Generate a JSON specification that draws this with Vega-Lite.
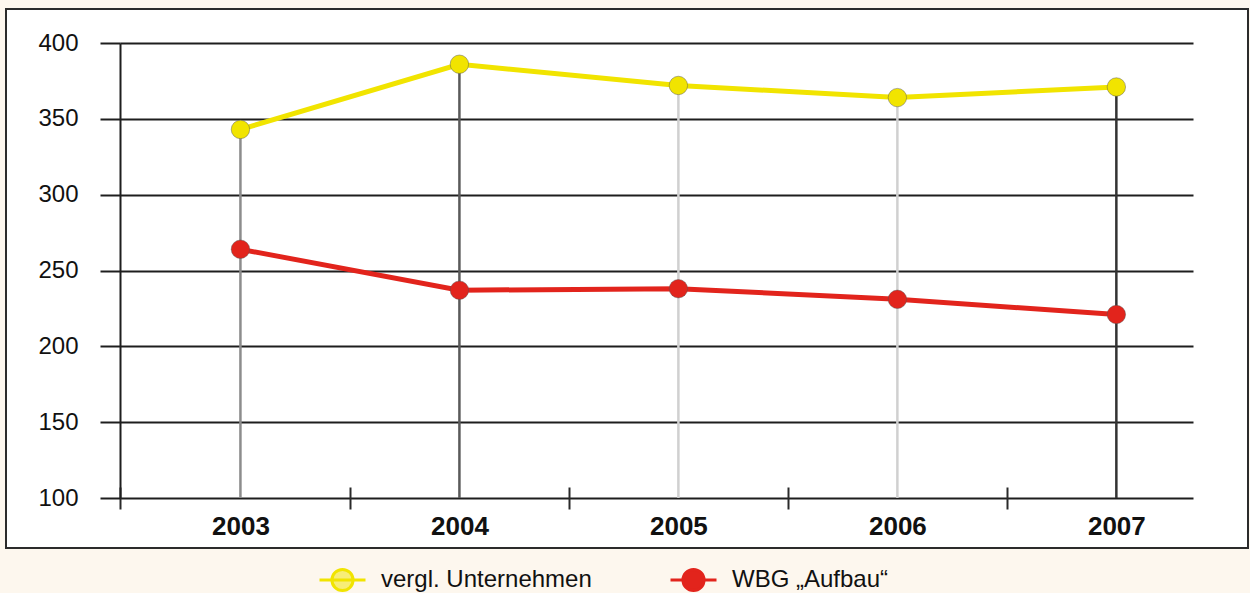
{
  "$schema": "https://vega.github.io/schema/vega-lite/v6.json",
  "width": 1242,
  "height": 539,
  "autosize": {"type": "none"},
  "padding": {"left": 6, "top": 9, "right": 2, "bottom": 45},
  "background": "#fdf7ee",
  "config": {
    "font": "Liberation Sans",
    "view": {"fill": "white", "stroke": "#2b2b2b", "strokeWidth": 2}
  },
  "data": {
    "values": [
      {"year": 2003, "series": "vergl. Unternehmen", "value": 343},
      {"year": 2004, "series": "vergl. Unternehmen", "value": 386},
      {"year": 2005, "series": "vergl. Unternehmen", "value": 372},
      {"year": 2006, "series": "vergl. Unternehmen", "value": 364},
      {"year": 2007, "series": "vergl. Unternehmen", "value": 371},
      {"year": 2003, "series": "WBG „Aufbau“", "value": 264},
      {"year": 2004, "series": "WBG „Aufbau“", "value": 237},
      {"year": 2005, "series": "WBG „Aufbau“", "value": 238},
      {"year": 2006, "series": "WBG „Aufbau“", "value": 231},
      {"year": 2007, "series": "WBG „Aufbau“", "value": 221}
    ]
  },
  "encoding": {
    "x": {
      "field": "year",
      "type": "quantitative",
      "scale": {"domain": [2002.45, 2007.35], "range": [114, 1187], "nice": false, "zero": false},
      "axis": {
        "title": null,
        "orient": "bottom",
        "offset": -61,
        "values": [2002.45, 2003, 2003.5, 2004, 2004.5, 2005, 2005.5, 2006, 2006.5, 2007],
        "grid": false,
        "domain": false,
        "tickSize": 22,
        "tickWidth": 2,
        "tickColor": "#2a2a2a",
        "tickOpacity": {"condition": {"test": "datum.value % 1 === 0", "value": 0}, "value": 1},
        "labelExpr": "datum.value % 1 === 0 ? toString(datum.value) : ''",
        "labelFontSize": 26,
        "labelFontWeight": "bold",
        "labelColor": "#111111",
        "labelPadding": 4
      }
    },
    "y": {
      "field": "value",
      "type": "quantitative",
      "scale": {"domain": [100, 400], "range": [489, 34], "nice": false, "zero": false},
      "axis": {
        "title": null,
        "orient": "left",
        "offset": -114,
        "values": [100, 150, 200, 250, 300, 350, 400],
        "grid": true,
        "gridColor": "#1e1e1e",
        "gridWidth": 2,
        "domain": true,
        "domainColor": "#1e1e1e",
        "domainWidth": 2,
        "tickSize": 20,
        "tickWidth": 2,
        "tickColor": "#1e1e1e",
        "labelFontSize": 24,
        "labelColor": "#111111",
        "labelPadding": 22
      }
    }
  },
  "layer": [
    {
      "transform": [{"filter": "datum.series === 'vergl. Unternehmen'"}],
      "mark": {"type": "rule", "strokeWidth": 2.5},
      "encoding": {
        "y2": {"datum": 100},
        "stroke": {
          "field": "year",
          "type": "ordinal",
          "scale": {"domain": [2003, 2004, 2005, 2006, 2007], "range": ["#8c8c8c", "#5a5a5a", "#d0d0d0", "#d0d0d0", "#333333"]},
          "legend": null
        }
      }
    },
    {
      "mark": {"type": "line", "strokeWidth": 5},
      "encoding": {
        "color": {
          "field": "series",
          "type": "nominal",
          "scale": {"domain": ["vergl. Unternehmen", "WBG „Aufbau“"], "range": ["#f1e400", "#e2241c"]},
          "legend": {
            "title": null,
            "orient": "none",
            "direction": "horizontal",
            "legendX": 312,
            "legendY": 546,
            "padding": 0,
            "symbolType": "M-1,0H1M-0.46,0A0.46,0.46,0,1,1,0.46,0A0.46,0.46,0,1,1,-0.46,0Z",
            "symbolSize": 2116,
            "symbolStrokeWidth": 3,
            "labelFontSize": 24,
            "labelColor": "#111111",
            "labelOffset": 14,
            "columnPadding": 72,
            "labelLimit": 400,
            "encode": {
              "symbols": {
                "update": {
                  "fill": {"scale": "color", "field": "value"},
                  "fillOpacity": {"signal": "datum.value === 'vergl. Unternehmen' ? 0.5 : 1"},
                  "stroke": {"scale": "color", "field": "value"},
                  "strokeWidth": {"value": 3},
                  "opacity": {"value": 1}
                }
              }
            }
          }
        }
      }
    },
    {
      "mark": {"type": "point", "filled": true, "size": 340, "opacity": 1, "stroke": "#555555", "strokeWidth": 1, "strokeOpacity": 0.45},
      "encoding": {
        "color": {"field": "series", "type": "nominal"}
      }
    }
  ]
}
